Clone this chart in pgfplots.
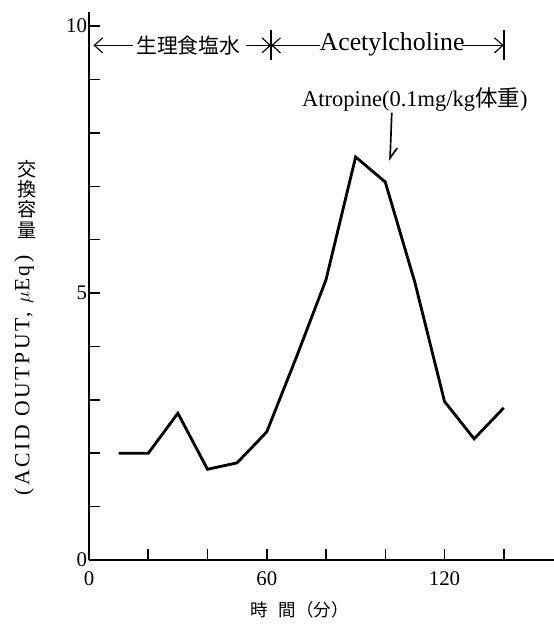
\documentclass[border=0pt]{standalone}
\usepackage{fontspec}
\setmainfont{Liberation Serif}
\newfontfamily\cjk{Noto Sans CJK JP}
\usepackage{pgfplots}
\pgfplotsset{compat=1.18}
\usetikzlibrary{arrows.meta}

\begin{document}
\begin{tikzpicture}
\begin{axis}[
  x=1.778pt, y=32.04pt,
  xmin=0, xmax=156.9, ymin=0, ymax=10.27,
  axis x line=bottom, axis y line=left,
  axis line style={-, line width=1.1pt},
  tick align=inside,
  major tick length=6.5pt,
  tick style={line width=0.9pt, black},
  xtick={0,20,...,140},
  xticklabels={0,,,60,,,120,},
  ytick={0,1,...,10},
  yticklabels={0,,,,,5,,,,,10},
  /pgf/number format/assume math mode=true,
  tick label style={font=\fontsize{12.5}{14}\selectfont},
  yticklabel style={inner sep=1pt},
  xticklabel style={yshift=-3.5pt},
  clip=false,
]
\addplot[black, line width=1.7pt, line join=miter] coordinates {
  (10,2.0) (20,2.0) (30,2.75) (40,1.7) (50,1.82) (60,2.4) (70,3.8)
  (80,5.25) (90,7.55) (100,7.08) (110,5.2) (120,2.97) (130,2.27) (140,2.85)
};

% header: periods
\draw[line width=0.7pt, -{Straight Barb[length=5pt,width=9pt]}] (axis cs:15,9.64) -- (axis cs:1.5,9.64);
\node[font=\cjk\fontsize{12.5}{14}\selectfont, inner sep=0pt] at (axis cs:33.5,9.64) {生理食塩水};
\draw[line width=0.7pt, -{Straight Barb[length=5pt,width=9pt]}] (axis cs:53,9.64) -- (axis cs:61.5,9.64);
\draw[line width=0.7pt, -{Straight Barb[length=5pt,width=9pt]}] (axis cs:78,9.64) -- (axis cs:61.5,9.64);
\draw[line width=0.9pt] (axis cs:61.5,9.36) -- (axis cs:61.5,9.92);
\node[font=\fontsize{15.5}{17}\selectfont, inner sep=0pt] at (axis cs:102.3,9.66) {Acetylcholine};
\draw[line width=0.7pt, -{Straight Barb[length=5pt,width=9pt]}] (axis cs:126,9.64) -- (axis cs:140,9.64);
\draw[line width=1pt] (axis cs:140,9.36) -- (axis cs:140,9.92);

% atropine
\node[font=\fontsize{13.5}{15}\selectfont, inner sep=0pt] at (axis cs:110,8.62) {Atropine(0.1mg/kg{\cjk 体重})};
\draw[line width=1pt, -{Straight Barb[left, length=6pt, width=8pt]}] (axis cs:102.2,8.38) -- (axis cs:101.6,7.48);

% axis titles
\node[font=\fontsize{13}{15}\selectfont, rotate=90, inner sep=0pt] at (axis cs:-21.9,3.46) {\addfontfeatures{LetterSpace=12}(ACID OUTPUT, $\mu$Eq)};
\node[font=\cjk\fontsize{11.5}{12.2}\selectfont, align=center, inner sep=0pt] at (axis cs:-20.9,6.76) {交\\換\\容\\量};
\node[font=\cjk\fontsize{10.5}{12}\selectfont, inner sep=0pt] at (axis cs:71.2,-0.94) {時\hspace{0.6em}間（分）};

\coordinate (tl) at (axis cs:-30.04,10.49);
\coordinate (br) at (axis cs:156.9,-1.292);
\end{axis}
\pgfresetboundingbox
\useasboundingbox (tl) rectangle (br);
\end{tikzpicture}
\end{document}
